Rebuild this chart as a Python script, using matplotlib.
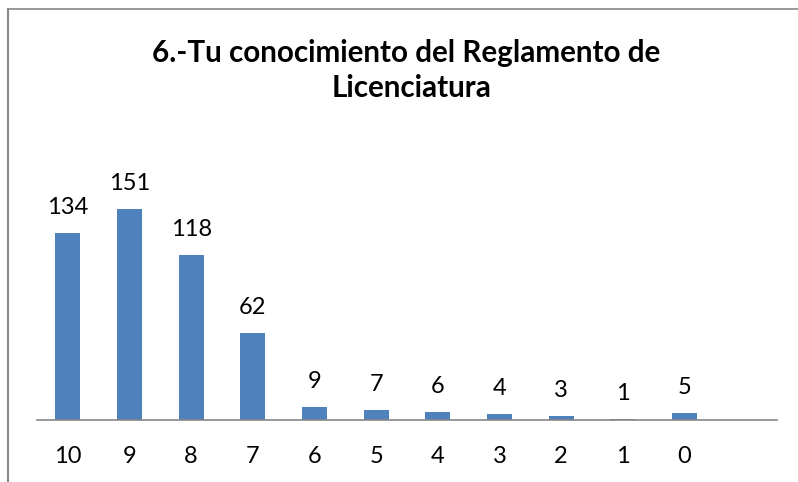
import matplotlib
matplotlib.use("Agg")
import matplotlib.pyplot as plt
from matplotlib.lines import Line2D

plt.rcParams['font.family'] = ['Lato', 'DejaVu Sans']

categories = ["10", "9", "8", "7", "6", "5", "4", "3", "2", "1", "0", ""]
values = [134, 151, 118, 62, 9, 7, 6, 4, 3, 1, 5]
title_line1 = "6.-Tu conocimiento del Reglamento de"
title_line2 = "Licenciatura"

W, H = 798, 482
fig = plt.figure(figsize=(W / 100, H / 100), dpi=100)
fig.patch.set_facecolor("white")

ymax = 160
px_per_unit = 1.397
ax_left, ax_right, ax_bottom = 37, 777, 420
ax_top = ax_bottom - ymax * px_per_unit
ax = fig.add_axes([ax_left / W, (H - ax_bottom) / H, (ax_right - ax_left) / W, (ax_bottom - ax_top) / H])

x = list(range(len(values)))
ax.bar(x, values, width=0.405, color="#4F81BD", edgecolor="none", zorder=2)
ax.set_xlim(-0.5, len(categories) - 0.5)
ax.set_ylim(0, ymax)

for xi, v in zip(x, values):
    ax.annotate(str(v), (xi, v), xytext=(0, 13.7), textcoords="offset points",
                ha="center", va="baseline", fontsize=17, color="black")

ax.set_xticks(range(len(categories)))
ax.set_xticklabels(categories, fontsize=17)
ax.tick_params(axis="x", length=0, pad=19)
ax.set_yticks([])
for s in ["top", "right", "left"]:
    ax.spines[s].set_visible(False)
ax.spines["bottom"].set_color("#868686")
ax.spines["bottom"].set_linewidth(1.2)
ax.patch.set_visible(False)

# chart frame (left and top edges)
fig.add_artist(Line2D([8 / W, 8 / W], [0, (H - 9) / H], transform=fig.transFigure,
                      color="#888888", linewidth=1.5))
fig.add_artist(Line2D([8 / W, 1], [(H - 9) / H, (H - 9) / H], transform=fig.transFigure,
                      color="#888888", linewidth=1.2))

fig.text(406 / W, (H - 61.7) / H, title_line1, ha="center", va="baseline",
         fontsize=21.3, fontweight="bold", color="black")
fig.text(412 / W, (H - 96.7) / H, title_line2, ha="center", va="baseline",
         fontsize=21.3, fontweight="bold", color="black")

fig.savefig("out.png", dpi=100)
